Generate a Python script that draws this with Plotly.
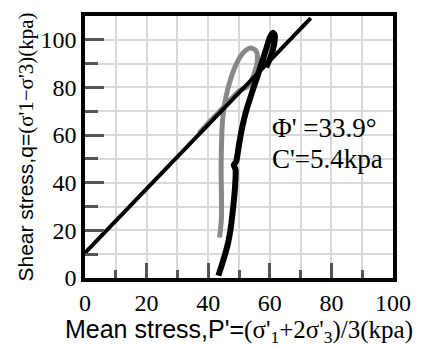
import plotly.graph_objects as go

# Stress path of the black specimen (p', q) in kPa
black_p = [43.3, 44.3, 45.5, 46.5, 47.2, 47.8, 48.3, 48.7, 48.9, 48.3, 49.1, 50.0, 51.0, 52.3,
           54.0, 55.8, 57.3, 58.8, 60.0, 61.0, 61.6, 61.4, 60.3, 58.8]
black_q = [1.0, 5.0, 10.0, 15.0, 20.0, 26.0, 32.0, 38.0, 45.5, 47.5, 49.0, 56.0, 63.0, 70.0,
           77.0, 84.0, 90.0, 96.0, 101.0, 103.0, 102.0, 98.0, 93.0, 88.5]

# Stress path of the grey specimen
gray_p = [43.7, 44.3, 44.3, 44.2, 44.3, 44.6, 45.2, 46.5, 48.5, 51.0, 53.5, 55.5, 56.0, 55.0,
          53.0, 50.5, 47.0, 43.0, 39.5, 37.0]
gray_q = [17.0, 25.0, 35.0, 45.0, 55.0, 65.0, 72.0, 80.0, 88.0, 94.0, 96.5, 95.5, 92.0, 86.0,
          80.5, 79.0, 74.5, 69.0, 64.3, 60.8]

# Failure envelope end points
env_p = [-1.3, 73.3]
env_q = [8.8, 109.1]

x_ticks = [0, 20, 40, 60, 80, 100]
y_ticks = [0, 20, 40, 60, 80, 100]

phi_text = "Φ' =33.9°"
c_text = "C'=5.4kpa"

SERIF = "Liberation Serif, Times New Roman, serif"
SANS = "Liberation Sans, Arial, sans-serif"

fig = go.Figure()
fig.add_trace(go.Scatter(x=gray_p, y=gray_q, mode="lines",
                         line=dict(color="#888888", width=5, shape="spline", smoothing=0.8)))
fig.add_trace(go.Scatter(x=env_p, y=env_q, mode="lines",
                         line=dict(color="black", width=4)))
fig.add_trace(go.Scatter(x=black_p, y=black_q, mode="lines",
                         line=dict(color="black", width=6, shape="spline", smoothing=0.6)))

fig.add_annotation(x=60, y=63, xref="x", yref="y", text=phi_text, showarrow=False,
                   xanchor="left", yanchor="middle",
                   font=dict(family=SERIF, size=27, color="black"))
fig.add_annotation(x=60, y=50, xref="x", yref="y", text=c_text, showarrow=False,
                   xanchor="left", yanchor="middle",
                   font=dict(family=SERIF, size=27, color="black"))

axis_common = dict(
    showline=True, linecolor="black", linewidth=3.5, mirror=True,
    showgrid=True, gridcolor="#d9d9d9", gridwidth=1.5,
    zeroline=False, ticks="inside", tickcolor="#555555", tickwidth=2.5,
    tickfont=dict(family=SERIF, size=24, color="black"),
)

fig.update_xaxes(
    range=[0, 100], tickvals=x_ticks, ticklen=15,
    minor=dict(dtick=10, tick0=0, ticks="inside", ticklen=8, tickcolor="#555555",
               tickwidth=2.5, showgrid=True, gridcolor="#d9d9d9", gridwidth=1.5),
    title=dict(text="Mean stress,P'=<span style=\"font-family:Liberation Serif\">(σ'<sub>1</sub>+2σ'<sub>3</sub>)/3(kpa)</span>",
               font=dict(family=SANS, size=25, color="black"), standoff=2),
    **axis_common,
)
fig.update_yaxes(
    range=[0, 110], tickvals=y_ticks, ticklen=19,
    minor=dict(dtick=10, tick0=0, ticks="inside", ticklen=13, tickcolor="#555555",
               tickwidth=2.5, showgrid=True, gridcolor="#d9d9d9", gridwidth=1.5),
    title=dict(text="Shear stress,q=<span style=\"font-family:Liberation Serif\">(σ'1−σ'3)(kpa)</span>",
               font=dict(family=SANS, size=21, color="black"), standoff=2),
    **axis_common,
)

fig.update_layout(
    width=423, height=347,
    margin=dict(l=85, r=21, t=12, b=60),
    paper_bgcolor="white", plot_bgcolor="white",
    showlegend=False,
)

fig.write_html("out.html")
